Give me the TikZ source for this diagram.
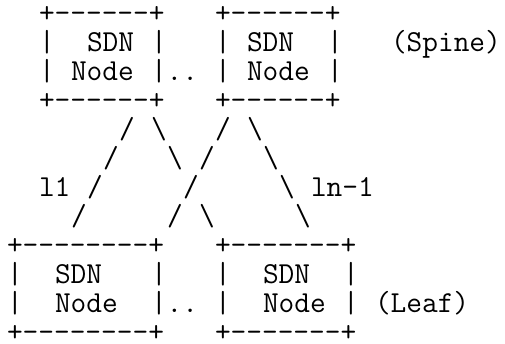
\documentclass[tikz,border=0pt]{standalone}
\usepackage{fontspec}
\tikzset{asc/.style={anchor=base west, inner sep=0pt, outer sep=0pt,
  text depth=0pt, text height=14pt,
  font=\ttfamily\fontsize{30.48pt}{29pt}\selectfont, text=black}}
% #1 name, #2 column, #3 row, #4 text
\newcommand\asccell[4]{\node[asc] (#1) at ({7pt+16pt*#2},{321pt-29pt*#3}) {#4};}
\newcommand\bs{\textbackslash}
\newcommand\dd{-\kern0pt}
\begin{document}
\begin{tikzpicture}
\useasboundingbox (0,0) rectangle (505pt,344pt);
% spine boxes
\asccell{sA0}{2}{0}{+\dd\dd\dd\dd\dd\dd+}
\asccell{sB0}{13}{0}{+\dd\dd\dd\dd\dd\dd+}
\asccell{sA1l}{2}{1}{|}
\asccell{sA1t}{5}{1}{SDN}
\asccell{sA1r}{9}{1}{|}
\asccell{sB1l}{13}{1}{|}
\asccell{sB1t}{15}{1}{SDN}
\asccell{sB1r}{20}{1}{|}
\asccell{spine}{24}{1}{(Spine)}
\asccell{sA2l}{2}{2}{|}
\asccell{sA2t}{4}{2}{Node}
\asccell{sA2r}{9}{2}{|..}
\asccell{sB2l}{13}{2}{|}
\asccell{sB2t}{15}{2}{Node}
\asccell{sB2r}{20}{2}{|}
\asccell{sA3}{2}{3}{+\dd\dd\dd\dd\dd\dd+}
\asccell{sB3}{13}{3}{+\dd\dd\dd\dd\dd\dd+}
% links
\asccell{k4a}{7}{4}{/}
\asccell{k4b}{9}{4}{\bs}
\asccell{k4c}{13}{4}{/}
\asccell{k4d}{15}{4}{\bs}
\asccell{k5a}{6}{5}{/}
\asccell{k5b}{10}{5}{\bs}
\asccell{k5c}{12}{5}{/}
\asccell{k5d}{16}{5}{\bs}
\asccell{lone}{2}{6}{l1}
\asccell{k6a}{5}{6}{/}
\asccell{k6b}{11}{6}{/}
\asccell{k6c}{17}{6}{\bs}
\asccell{lnm}{19}{6}{ln\dd1}
\asccell{k7a}{4}{7}{/}
\asccell{k7b}{10}{7}{/}
\asccell{k7c}{12}{7}{\bs}
\asccell{k7d}{18}{7}{\bs}
% leaf boxes
\asccell{lA8}{0}{8}{+\dd\dd\dd\dd\dd\dd\dd\dd+}
\asccell{lB8}{13}{8}{+\dd\dd\dd\dd\dd\dd\dd+}
\asccell{lA9l}{0}{9}{|}
\asccell{lA9t}{3}{9}{SDN}
\asccell{lA9r}{9}{9}{|}
\asccell{lB9l}{13}{9}{|}
\asccell{lB9t}{16}{9}{SDN}
\asccell{lB9r}{21}{9}{|}
\asccell{lA10l}{0}{10}{|}
\asccell{lA10t}{3}{10}{Node}
\asccell{lA10r}{9}{10}{|..}
\asccell{lB10l}{13}{10}{|}
\asccell{lB10t}{16}{10}{Node}
\asccell{lB10r}{21}{10}{|}
\asccell{leaf}{23}{10}{(Leaf)}
\asccell{lA11}{0}{11}{+\dd\dd\dd\dd\dd\dd\dd\dd+}
\asccell{lB11}{13}{11}{+\dd\dd\dd\dd\dd\dd\dd+}
\end{tikzpicture}
\end{document}
